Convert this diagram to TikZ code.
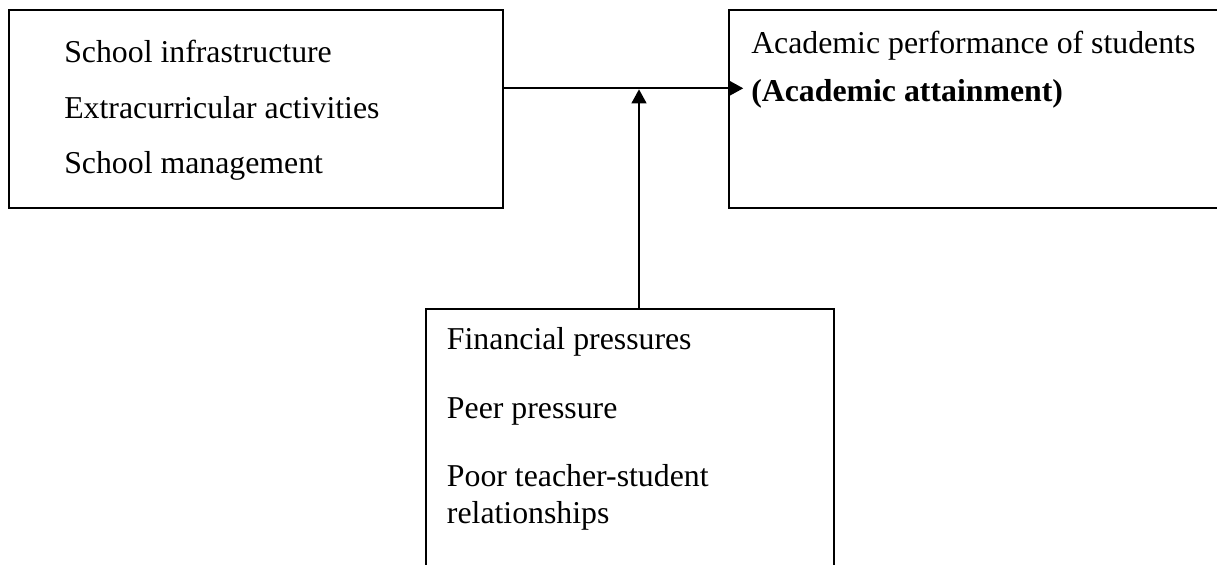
\documentclass[tikz,border=0pt]{standalone}
\usepackage{fontspec}
\setmainfont{Liberation Serif}
\usetikzlibrary{arrows.meta,positioning}

\begin{document}
\begin{tikzpicture}[x=0.75pt,y=0.75pt,yscale=-1,xscale=1,
    box/.style={draw,line width=1.7pt,inner sep=0pt},
    txt/.style={anchor=base west,inner sep=0pt,font=\fontsize{23.85}{28}\selectfont},
    link/.style={line width=1.7pt,-{Triangle[length=10.5pt,width=11pt]}}]
    \useasboundingbox (0,0) rectangle (1217,564);
    \clip (0,0) rectangle (1217,564);

    % Boxes
    \node[box,minimum width=370.5pt,minimum height=148.3pt] (inputs) at (256,108.9) {};
    \node[box,minimum width=375.75pt,minimum height=148.3pt] (outcome) at (979.5,108.9) {};
    \node[box,minimum width=306pt,minimum height=218.25pt] (moderators) at (630,454.5) {};

    % Text Node
    \node[txt] (infra) at (64,62.3) {School infrastructure};
    \node[txt] (extra) at (64,118.3) {Extracurricular activities};
    \node[txt] (mgmt) at (64,173.3) {School management};
    % Text Node
    \node[txt] (perf) at (751,53) {Academic performance of students};
    \node[txt] (attain) at (751,101.5) {\bfseries (Academic attainment)};
    % Text Node
    \node[txt] (finance) at (446.7,349.5) {Financial pressures};
    \node[txt] (peer) at (446.7,418) {Peer pressure};
    \node[txt] (teacher) at (446.7,486.7) {Poor teacher-student};
    \node[txt] (relation) at (446.7,523) {relationships};

    % Connection
    \coordinate (tip) at (743.3,88.3);
    \draw[link] (inputs.east |- tip) -- (tip);
    % Connection
    \coordinate (join) at (639,89.3);
    \draw[link] (moderators.north -| join) -- (join);

\end{tikzpicture}
\end{document}
